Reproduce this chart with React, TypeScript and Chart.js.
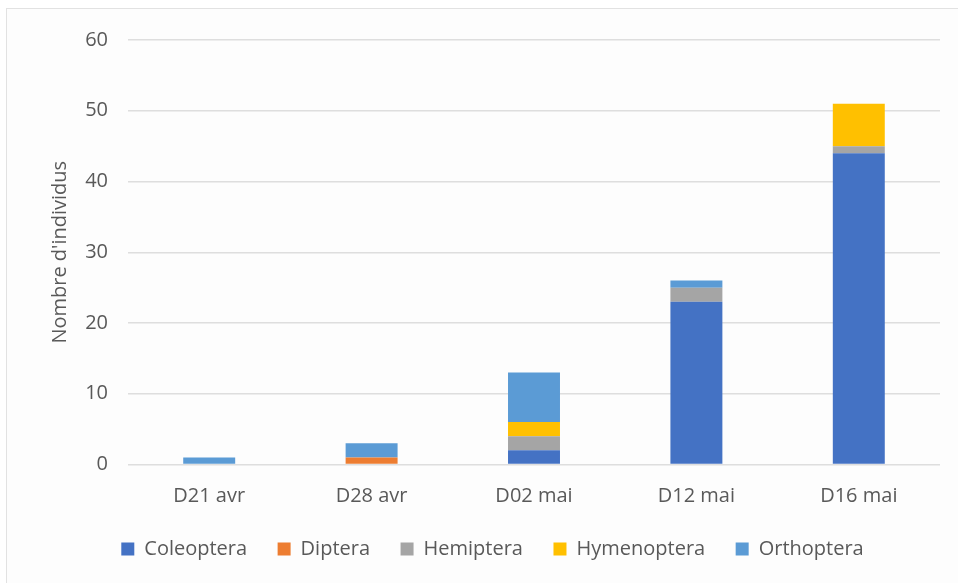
import React, { useEffect, useRef } from "react";
import { Chart, registerables } from "chart.js";

Chart.register(...registerables);

const categories = ["D21 avr", "D28 avr", "D02 mai", "D12 mai", "D16 mai"];
const coleoptera = [0, 0, 2, 23, 44];
const diptera = [0, 1, 0, 0, 0];
const hemiptera = [0, 0, 2, 2, 1];
const hymenoptera = [0, 0, 2, 0, 6];
const orthoptera = [1, 2, 7, 1, 0];
const yTicks = [0, 10, 20, 30, 40, 50, 60];
const yTitle = "Nombre d'individus";

const FONT = "'Open Sans', 'Noto Sans', sans-serif";
const TEXT = "#595959";
const FS = 20;

export default function App() {
  const ref = useRef<HTMLCanvasElement>(null);
  useEffect(() => {
    document.body.style.margin = "0";
    const ctx = ref.current!;
    const mk = (label: string, data: number[], color: string) => ({
      label,
      data,
      backgroundColor: color,
      borderWidth: 0,
      barPercentage: 0.32,
      categoryPercentage: 1,
    });
    const chart = new Chart(ctx, {
      type: "bar",
      data: {
        labels: categories,
        datasets: [
          mk("Coleoptera", coleoptera, "#4472C4"),
          mk("Diptera", diptera, "#ED7D31"),
          mk("Hemiptera", hemiptera, "#A5A5A5"),
          mk("Hymenoptera", hymenoptera, "#FFC000"),
          mk("Orthoptera", orthoptera, "#5B9BD5"),
        ],
      },
      options: {
        animation: false,
        responsive: false,
        devicePixelRatio: 1,
        layout: { padding: { left: 45, right: 18, top: 40, bottom: 14 } },
        plugins: {
          tooltip: { enabled: false },
          legend: {
            position: "bottom",
            maxHeight: 66,
            labels: {
              boxWidth: 13,
              boxHeight: 13,
              padding: 30.5,
              color: TEXT,
              font: { family: FONT, size: FS },
            },
          },
        },
        scales: {
          x: {
            stacked: true,
            grid: { display: false },
            border: { display: false },
            ticks: { color: TEXT, font: { family: FONT, size: FS }, padding: 12 },
            afterFit: (s: any) => {
              s.height = s.height - 12;
            },
          },
          y: {
            stacked: true,
            min: 0,
            max: 60,
            afterBuildTicks: (s: any) => {
              s.ticks = yTicks.map((v) => ({ value: v }));
            },
            afterFit: (s: any) => {
              s.width = 83;
            },
            grid: { color: "#dedede", lineWidth: 1.5, drawTicks: false },
            border: { display: false },
            ticks: { color: TEXT, font: { family: FONT, size: FS }, padding: 20 },
            title: {
              display: true,
              text: yTitle,
              color: TEXT,
              font: { family: FONT, size: FS },
              padding: { top: 3, bottom: 0 },
            },
          },
        },
      },
    });
    return () => chart.destroy();
  }, []);
  return (
    <div style={{ position: "relative", width: 958, height: 583, background: "#ffffff", overflow: "hidden" }}>
      <div
        style={{
          position: "absolute",
          left: 6,
          top: 8,
          width: 958,
          height: 590,
          border: "1px solid #e2e2e2",
          background: "#fdfdfd",
          boxSizing: "border-box",
        }}
      />
      <canvas ref={ref} width={958} height={583} style={{ position: "absolute", left: 0, top: 0 }} />
    </div>
  );
}
